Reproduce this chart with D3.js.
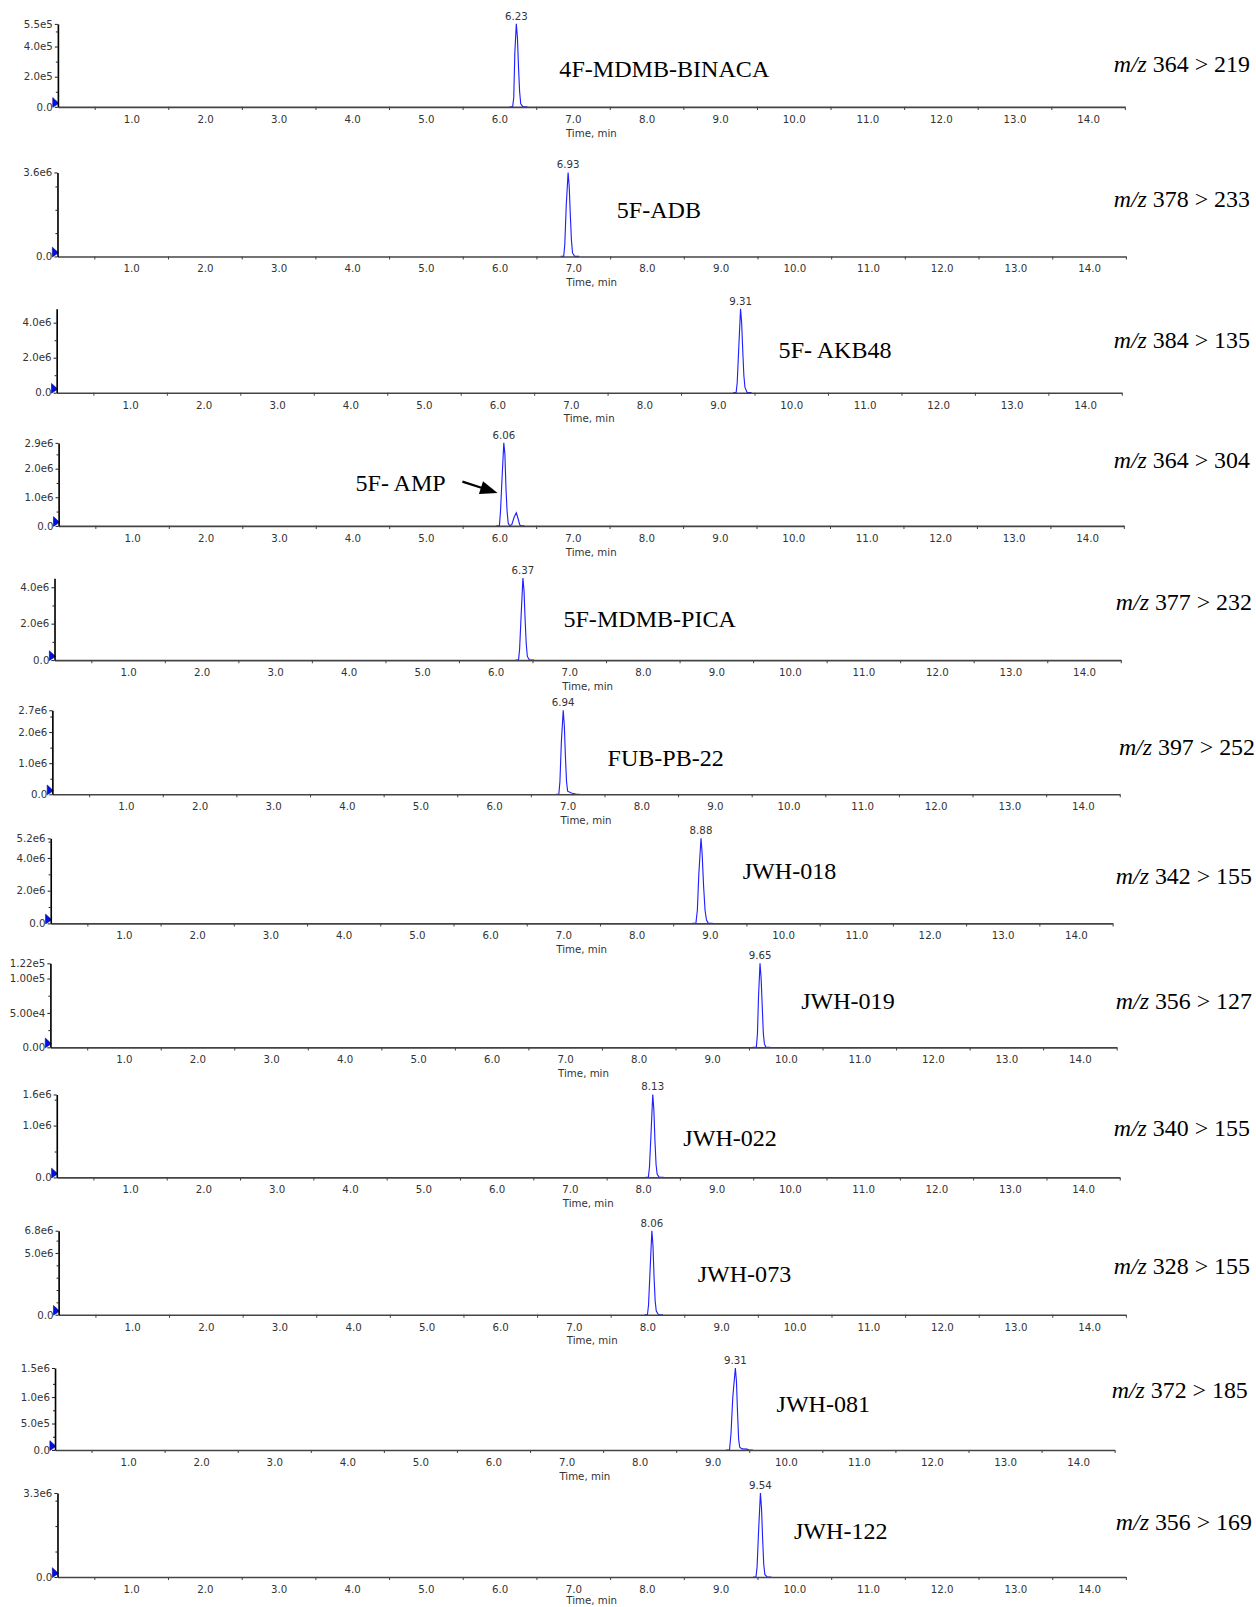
<!DOCTYPE html>
<html>
<head>
<meta charset="utf-8">
<script src="https://cdn.jsdelivr.net/npm/d3@7"></script>
<style>
  body { margin: 0; background: #fff; }
  .tick text, .lbl { font-family: "DejaVu Sans", sans-serif; fill: #333; }
  .name, .mz { font-family: "Liberation Serif", "Times New Roman", serif; fill: #000; }
</style>
</head>
<body>
<svg id="chart" width="1256" height="1607" viewBox="0 0 1226 1568"></svg>
<script>
// ---- data ----
var compounds = ["4F-MDMB-BINACA", "5F-ADB", "5F- AKB48", "5F- AMP", "5F-MDMB-PICA", "FUB-PB-22",
                 "JWH-018", "JWH-019", "JWH-022", "JWH-073", "JWH-081", "JWH-122"];
var precursors = [364, 378, 384, 364, 377, 397, 342, 356, 340, 328, 372, 356];
var products   = [219, 233, 135, 304, 232, 252, 155, 127, 155, 155, 185, 169];
var retentionTimes = ["6.23", "6.93", "9.31", "6.06", "6.37", "6.94", "8.88", "9.65", "8.13", "8.06", "9.31", "9.54"];
var yMaxValues = [5.5e5, 3.6e6, 4.8e6, 2.9e6, 4.5e6, 2.7e6, 5.2e6, 1.22e5, 1.6e6, 6.8e6, 1.55e6, 3.3e6];

var yTickValues = [
  [0, 2e5, 4e5, 5.5e5], [0, 3.6e6], [0, 2e6, 4e6], [0, 1e6, 2e6, 2.9e6],
  [0, 2e6, 4e6], [0, 1e6, 2e6, 2.7e6], [0, 2e6, 4e6, 5.2e6], [0, 5e4, 1e5, 1.22e5],
  [0, 1e6, 1.6e6], [0, 5e6, 6.8e6], [0, 5e5, 1e6, 1.55e6], [0, 3.3e6]
];
var yTickLabels = [
  ["0.0", "2.0e5", "4.0e5", "5.5e5"], ["0.0", "3.6e6"], ["0.0", "2.0e6", "4.0e6"], ["0.0", "1.0e6", "2.0e6", "2.9e6"],
  ["0.0", "2.0e6", "4.0e6"], ["0.0", "1.0e6", "2.0e6", "2.7e6"], ["0.0", "2.0e6", "4.0e6", "5.2e6"], ["0.00", "5.00e4", "1.00e5", "1.22e5"],
  ["0.0", "1.0e6", "1.6e6"], ["0.0", "5.0e6", "6.8e6"], ["0.0", "5.0e5", "1.0e6", "1.5e6"], ["0.0", "3.3e6"]
];
var yMinorTicks = [
  [1e5, 3e5, 5e5], [1e6, 2e6, 3e6], [1e6, 3e6], [5e5, 1.5e6, 2.5e6],
  [1e6, 3e6], [5e5, 1.5e6, 2.5e6], [1e6, 3e6, 5e6], [2.5e4, 7.5e4],
  [5e5, 1.5e6], [1e6, 2e6, 3e6, 4e6, 6e6], [2.5e5, 7.5e5, 1.25e6], [1e6, 2e6, 3e6]
];
var timeLabels = [1, 2, 3, 4, 5, 6, 7, 8, 9, 10, 11, 12, 13, 14];
var timeMinor = [0.5, 1.5, 2.5, 3.5, 4.5, 5.5, 6.5, 7.5, 8.5, 9.5, 10.5, 11.5, 12.5, 13.5, 14.5];

// [time (min), intensity (cps)]
var traces = [
  [[6.14,0],[6.18,0],[6.195,6e4],[6.21,3.6e5],[6.23,5.5e5],[6.245,4.6e5],[6.26,2.6e5],[6.275,1.0e5],[6.29,2e4],[6.32,0],[6.38,0]],
  [[6.83,0],[6.87,0],[6.885,5e5],[6.905,2.2e6],[6.93,3.6e6],[6.945,3.0e6],[6.96,1.8e6],[6.975,7e5],[6.99,1.5e5],[7.02,0],[7.08,0]],
  [[9.21,0],[9.25,0],[9.265,6e5],[9.285,2.5e6],[9.31,4.8e6],[9.325,4.0e6],[9.34,2.4e6],[9.355,1.0e6],[9.37,3e5],[9.40,0],[9.46,0]],
  [[5.96,0],[6.0,0],[6.015,5e5],[6.035,1.6e6],[6.06,2.9e6],[6.075,2.5e6],[6.09,1.3e6],[6.105,5e5],[6.12,1e5],[6.14,0],[6.17,5e4],[6.2,3e5],[6.23,4.6e5],[6.255,2.5e5],[6.275,5e4],[6.29,0],[6.34,0]],
  [[6.27,0],[6.31,0],[6.325,6e5],[6.345,2.4e6],[6.37,4.5e6],[6.385,3.8e6],[6.40,2.2e6],[6.415,9e5],[6.43,2e5],[6.46,0],[6.52,0]],
  [[6.84,0],[6.88,0],[6.895,4e5],[6.915,1.7e6],[6.94,2.7e6],[6.955,2.2e6],[6.97,1.2e6],[6.985,4e5],[7.0,1e5],[7.05,4e4],[7.12,0],[7.16,0]],
  [[8.76,0],[8.81,0],[8.83,8e5],[8.85,3.0e6],[8.88,5.2e6],[8.895,4.3e6],[8.915,2.3e6],[8.935,8e5],[8.955,2e5],[8.98,0],[9.04,0]],
  [[9.55,0],[9.60,0],[9.615,2e4],[9.63,7.5e4],[9.65,1.22e5],[9.665,1.0e5],[9.68,6e4],[9.695,2e4],[9.71,5e3],[9.73,0],[9.79,0]],
  [[8.03,0],[8.07,0],[8.085,2e5],[8.105,8e5],[8.13,1.6e6],[8.145,1.3e6],[8.16,7e5],[8.175,2.5e5],[8.19,6e4],[8.22,0],[8.28,0]],
  [[7.96,0],[8.0,0],[8.015,8e5],[8.035,3.5e6],[8.06,6.8e6],[8.075,5.6e6],[8.09,3.0e6],[8.105,1.1e6],[8.12,3e5],[8.15,0],[8.21,0]],
  [[9.18,0],[9.23,0],[9.25,3e5],[9.275,1.0e6],[9.31,1.55e6],[9.325,1.3e6],[9.34,7e5],[9.355,2e5],[9.37,5e4],[9.40,2e4],[9.47,1.5e4],[9.50,0],[9.55,0]],
  [[9.44,0],[9.48,0],[9.495,4e5],[9.515,1.8e6],[9.54,3.3e6],[9.555,2.7e6],[9.57,1.5e6],[9.585,5e5],[9.60,1e5],[9.63,0],[9.69,0]]
];

// ---- layout of each strip (in viewBox px) ----
var panels = [
  {x0: 56.5, xEnd: 1098, base: 104, top: 23,   nameX: 546, nameY: 75,   mzX: 1220, mzY: 70},
  {x0: 56.1, xEnd: 1099, base: 250, top: 168,  nameX: 602, nameY: 212,  mzX: 1220, mzY: 202},
  {x0: 55.3, xEnd: 1095, base: 383, top: 301,  nameX: 760, nameY: 349,  mzX: 1220, mzY: 339},
  {x0: 57.2, xEnd: 1097, base: 513, top: 432,  nameX: 347, nameY: 479,  mzX: 1220, mzY: 457},
  {x0: 53.2, xEnd: 1094, base: 644, top: 564,  nameX: 550, nameY: 612,  mzX: 1222, mzY: 595},
  {x0: 51.1, xEnd: 1093, base: 775, top: 693,  nameX: 593, nameY: 747,  mzX: 1225, mzY: 737},
  {x0: 49.5, xEnd: 1086, base: 901, top: 818,  nameX: 725, nameY: 858,  mzX: 1222, mzY: 863},
  {x0: 49.2, xEnd: 1090, base: 1022, top: 940, nameX: 782, nameY: 985,  mzX: 1222, mzY: 985},
  {x0: 55.4, xEnd: 1093, base: 1149, top: 1068, nameX: 667, nameY: 1118, mzX: 1220, mzY: 1109},
  {x0: 57.2, xEnd: 1099, base: 1283, top: 1201, nameX: 681, nameY: 1251, mzX: 1220, mzY: 1243},
  {x0: 53.7, xEnd: 1088, base: 1415, top: 1335, nameX: 758, nameY: 1378, mzX: 1218, mzY: 1364},
  {x0: 56.1, xEnd: 1099, base: 1539, top: 1457, nameX: 775, nameY: 1502, mzX: 1222, mzY: 1493}
];

var svg = d3.select("#chart");

panels.forEach(function (p, i) {
  var g = svg.append("g");

  var x = d3.scaleLinear().domain([0, 14.5]).range([p.x0, p.xEnd]);
  var y = d3.scaleLinear().domain([0, yMaxValues[i]]).range([p.base, p.top]);

  // trace
  var line = d3.line().x(d => x(d[0])).y(d => y(d[1]));
  g.append("path")
    .datum(traces[i])
    .attr("d", line)
    .attr("fill", "none")
    .attr("stroke", "#1f1fff")
    .attr("stroke-width", 1.1);

  // little blue marker at the start of the trace
  g.append("path")
    .attr("d", "M" + (p.x0 - 5) + "," + (p.base - 9) + "L" + (p.x0 + 1) + "," + (p.base - 3.5) +
               "L" + (p.x0 - 5) + "," + (p.base + 0.5) + "Z")
    .attr("fill", "#0010e0")
    .attr("stroke", "#000090")
    .attr("stroke-width", 0.6);

  // x axis: minor ticks on the line, labels at whole minutes
  var xMinor = g.append("g")
    .attr("transform", "translate(0," + p.base + ")")
    .call(d3.axisBottom(x).tickValues(timeMinor).tickSize(3).tickSizeOuter(0).tickFormat(""));
  xMinor.select(".domain").attr("stroke", "#444").attr("stroke-width", 1.6);
  xMinor.selectAll(".tick line").attr("stroke", "#444");

  var xLab = g.append("g")
    .attr("transform", "translate(0," + p.base + ")")
    .call(d3.axisBottom(x).tickValues(timeLabels).tickSize(0).tickPadding(8.5).tickFormat(d3.format(".1f")));
  xLab.select(".domain").remove();
  xLab.selectAll(".tick text").attr("font-size", 10);

  g.append("text")
    .attr("class", "lbl")
    .attr("x", x(7.25))
    .attr("y", Math.min(p.base + 29, 1565))
    .attr("text-anchor", "middle")
    .attr("font-size", 10)
    .text("Time, min");

  // y axis
  var yMin = g.append("g")
    .attr("transform", "translate(" + p.x0 + ",0)")
    .call(d3.axisLeft(y).tickValues(yMinorTicks[i]).tickSize(2).tickSizeOuter(0).tickFormat(""));
  yMin.select(".domain").attr("stroke", "#000").attr("stroke-width", 1.6);
  yMin.selectAll(".tick line").attr("stroke", "#222");

  var yMaj = g.append("g")
    .attr("transform", "translate(" + p.x0 + ",0)")
    .call(d3.axisLeft(y).tickValues(yTickValues[i]).tickSize(3).tickPadding(2)
      .tickFormat((d, j) => yTickLabels[i][j]));
  yMaj.select(".domain").remove();
  yMaj.selectAll(".tick line").attr("stroke", "#222");
  yMaj.selectAll(".tick text").attr("font-size", 10);

  // retention time above the apex
  var rt = +retentionTimes[i];
  g.append("text")
    .attr("class", "lbl")
    .attr("x", x(rt))
    .attr("y", y(yMaxValues[i]) - 4)
    .attr("text-anchor", "middle")
    .attr("font-size", 10)
    .text(retentionTimes[i]);

  // compound name
  g.append("text")
    .attr("class", "name")
    .attr("x", p.nameX)
    .attr("y", p.nameY)
    .attr("font-size", 23.5)
    .text(compounds[i]);

  // transition
  var mz = g.append("text")
    .attr("class", "mz")
    .attr("x", p.mzX)
    .attr("y", p.mzY)
    .attr("text-anchor", "end")
    .attr("font-size", 23.3);
  mz.append("tspan").attr("font-style", "italic").text("m/z");
  mz.append("tspan").text(" " + precursors[i] + " > " + products[i]);

  // arrow pointing at the 5F-AMP peak
  if (i === 3) {
    var tx = x(5.975), ty = y(1.15e6);
    var ux = 0.952, uy = 0.308;          // arrow direction
    var hl = 17, hw = 6.5;               // head length / half width
    var bx = tx - hl * ux, by = ty - hl * uy;
    g.append("line")
      .attr("x1", tx - 36 * ux).attr("y1", ty - 36 * uy)
      .attr("x2", bx + 2 * ux).attr("y2", by + 2 * uy)
      .attr("stroke", "#000").attr("stroke-width", 2.2);
    g.append("path")
      .attr("d", "M" + tx + "," + ty +
                 "L" + (bx - hw * uy) + "," + (by + hw * ux) +
                 "L" + (bx + hw * uy) + "," + (by - hw * ux) + "Z")
      .attr("fill", "#000");
  }
});
</script>
</body>
</html>
